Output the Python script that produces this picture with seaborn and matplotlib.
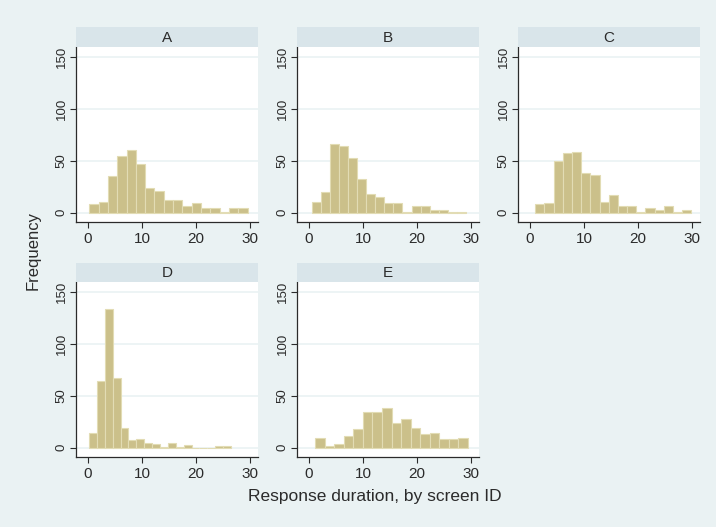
import numpy as np
import pandas as pd
import matplotlib
matplotlib.use('Agg')
import matplotlib.pyplot as plt
import seaborn as sns

# screen IDs and histogram counts
screens = ['A', 'B', 'C', 'D', 'E']
counts_a = [8, 10, 35, 55, 61, 47, 24, 21, 12, 12, 6, 9, 5, 5, 1, 5, 5]
counts_b = [10, 20, 66, 64, 53, 33, 18, 15, 9, 9, 1, 6, 6, 3, 3, 1, 1]
counts_c = [8, 9, 50, 58, 59, 38, 36, 10, 17, 6, 6, 1, 5, 3, 6, 1, 3]
counts_d = [14, 64, 134, 67, 19, 7, 8, 5, 4, 1, 5, 1, 3, 0, 0, 0, 2, 2]
counts_e = [9, 2, 4, 11, 18, 34, 34, 38, 24, 28, 19, 13, 14, 8, 8, 9]
# data range (min, max) of each screen's response durations
range_min = [0.25, 0.5, 1.0, 0.2, 1.2]
range_max = [29.6, 29.1, 29.9, 26.5, 29.4]
all_counts = [counts_a, counts_b, counts_c, counts_d, counts_e]

bg = '#EAF2F3'
strip = '#D9E5EA'
bar_fill = '#CBC08A'
bar_edge = '#E2DCB4'
ink = '#2B2B2B'

sns.set_style('white')
plt.rcParams['font.family'] = ['Liberation Sans', 'DejaVu Sans']

W, H = 716, 527
fig = plt.figure(figsize=(W / 100, H / 100), dpi=100)
fig.patch.set_facecolor(bg)

col_x = [76, 297, 518]
row_y = [(27, 47, 222), (263, 282, 457)]
pw = 182

for i, name in enumerate(screens):
    r, c = divmod(i, 3)
    s_top, p_top, p_bot = row_y[r]
    x0 = col_x[c]
    ax = fig.add_axes([x0 / W, 1 - p_bot / H, pw / W, (p_bot - p_top) / H])
    st = fig.add_axes([x0 / W, 1 - p_top / H, pw / W, (p_top - s_top) / H])

    counts = np.array(all_counts[i])
    edges = np.linspace(range_min[i], range_max[i], len(counts) + 1)
    df = pd.DataFrame({'duration': (edges[:-1] + edges[1:]) / 2,
                       'n': counts})
    sns.histplot(data=df, x='duration', weights='n', bins=edges.tolist(),
                 ax=ax, color=bar_fill, edgecolor=bar_edge, linewidth=0.8,
                 alpha=1, zorder=3)

    ax.set_facecolor('white')
    ax.set_xlim(-2.2, 31.5)
    ax.set_ylim(-9, 160)
    ax.set_xticks([0, 10, 20, 30])
    ax.set_yticks([0, 50, 100, 150])
    ax.yaxis.grid(True, color=bg, linewidth=1.2, zorder=0)
    ax.xaxis.grid(False)
    ax.set_axisbelow(True)
    for side in ['top', 'right']:
        ax.spines[side].set_visible(False)
    for side in ['left', 'bottom']:
        ax.spines[side].set_color(ink)
        ax.spines[side].set_linewidth(0.9)
    ax.tick_params(axis='both', direction='out', length=4, width=0.8,
                   color=ink, labelcolor=ink, left=True, bottom=True)
    ax.tick_params(axis='x', labelsize=11, pad=3)
    ax.tick_params(axis='y', labelsize=9.5, pad=2, labelrotation=90)
    plt.setp(ax.get_yticklabels(), va='center')
    ax.set_xlabel('')
    ax.set_ylabel('')

    st.set_facecolor(strip)
    st.set_xticks([])
    st.set_yticks([])
    for side in st.spines.values():
        side.set_visible(False)
    st.text(0.5, 0.45, name, ha='center', va='center', fontsize=11, color=ink,
            transform=st.transAxes)

fig.text(33 / W, 1 - 251 / H, 'Frequency', rotation=90, ha='center',
         va='center', fontsize=12, color=ink)
fig.text(375 / W, 1 - 497 / H, 'Response duration, by screen ID', ha='center',
         va='center', fontsize=12.5, color=ink)

fig.savefig('out.png', dpi=100, facecolor=bg)
